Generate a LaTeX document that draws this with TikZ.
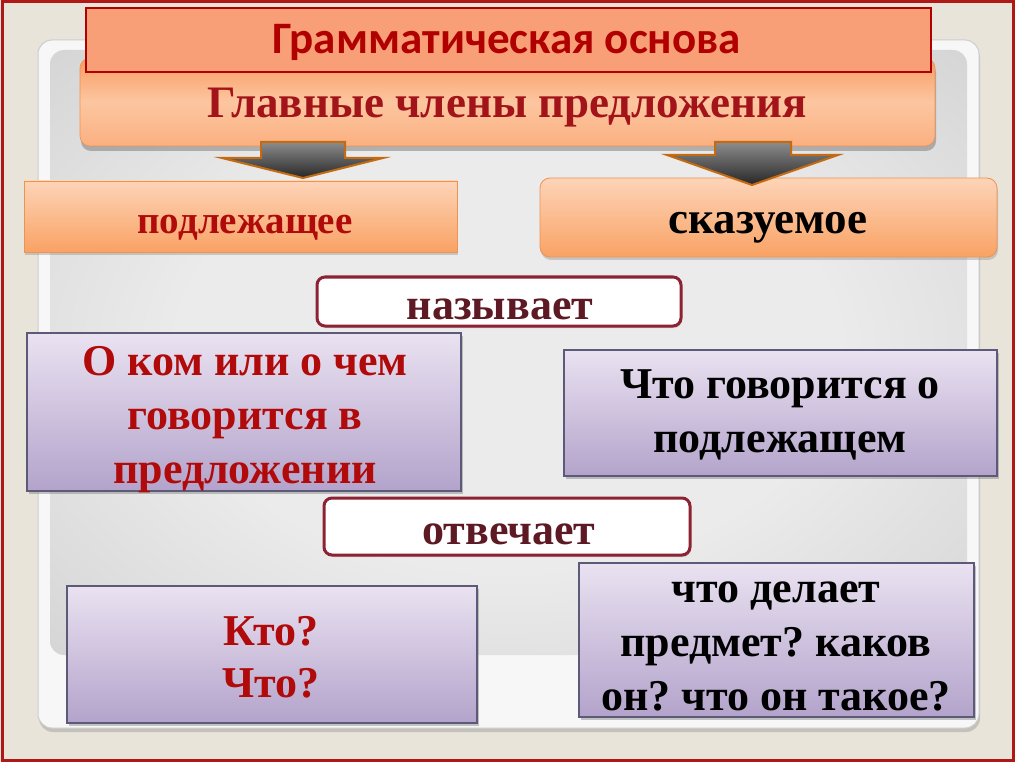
\documentclass[tikz,border=0pt]{standalone}
\usepackage{fontspec}
\setmainfont{Liberation Serif}
\newfontfamily\titlefont{Carlito}
\usetikzlibrary{shadows,calc}
\frenchspacing
\definecolor{bgbeige}{HTML}{E8E4DA}
\definecolor{frame}{HTML}{B01818}
\definecolor{titlefill}{HTML}{F99F77}
\definecolor{titletext}{HTML}{B00000}
\definecolor{redtext}{HTML}{B00A0A}
\definecolor{maintext}{HTML}{A3141A}
\definecolor{maroon}{HTML}{5E1A24}
\definecolor{boxborder}{HTML}{8C2232}
\definecolor{orTop}{HTML}{FDD4B8}
\definecolor{orBot}{HTML}{F9A264}
\definecolor{orEdge}{HTML}{EE9350}
\definecolor{mainTop}{HTML}{F99A62}
\definecolor{mainMid}{HTML}{FCC6A0}
\definecolor{mainBot}{HTML}{FBB080}
\definecolor{puTop}{HTML}{EAE2F1}
\definecolor{puBot}{HTML}{B3A3CB}
\definecolor{puEdge}{HTML}{5C5A78}
\definecolor{arrEdge}{HTML}{C46A12}
\definecolor{pc0}{HTML}{EBEBEB}
\definecolor{pc1}{HTML}{D2D2D2}
\definecolor{pc2}{HTML}{ABABAB}
\pgfdeclareradialshading{panelshade}{\pgfpoint{0bp}{0bp}}{color(0bp)=(pc0); color(18bp)=(pc0); color(38bp)=(pc1); color(50bp)=(pc2); color(80bp)=(pc2)}
\tikzset{
  orbox/.style={draw=orEdge, line width=0.8pt, top color=orTop, bottom color=orBot,
    drop shadow={shadow xshift=1pt, shadow yshift=-3pt, opacity=.35}},
  pubox/.style={draw=puEdge, line width=1.2pt, top color=puTop, bottom color=puBot,
    drop shadow={shadow xshift=2pt, shadow yshift=-3pt, opacity=.45}},
  whbox/.style={draw=boxborder, line width=3pt, fill=white, rounded corners=8pt,
    drop shadow={shadow xshift=1pt, shadow yshift=-2pt, opacity=.3}},
  bigtxt/.style={font=\fontsize{44}{54}\selectfont\bfseries, align=center, anchor=base, inner sep=0pt},
  blockarrow/.style={draw=arrEdge, line width=2pt, line join=miter, top color=black!45, bottom color=black!85},
}
\begin{document}
\begin{tikzpicture}[x=1pt,y=-1pt]
\useasboundingbox (0,0) rectangle (1015,762);
\fill[bgbeige] (0,0) rectangle (1015,762);
\draw[frame, line width=3pt] (2,2) rectangle (1013,760);
% panel
\draw[rounded corners=14pt, fill=black!3, draw=black!20, line width=1pt,
  drop shadow={shadow xshift=1pt, shadow yshift=-4pt, opacity=.35}] (38,40) rectangle (979,728);
\path[shading=panelshade, rounded corners=14pt] (50,50) rectangle (967,655);
% main box
\node[rounded corners=10pt, minimum width=855pt, minimum height=88pt, inner sep=0pt,
  top color=mainTop, bottom color=mainBot, middle color=mainMid, draw=orEdge, line width=0.6pt,
  drop shadow={shadow xshift=1pt, shadow yshift=-5pt, opacity=.55}] (main) at (507.5,102) {};
\node[bigtxt, text=maintext, font=\fontsize{45}{54}\selectfont\bfseries] (mainT) at (507,118) {Главные члены предложения};
% title
\node[draw=titletext, line width=2.5pt, fill=titlefill, minimum width=845pt, minimum height=64pt, inner sep=0pt] (title) at (508.5,40) {};
\node[font=\titlefont\fontsize{45}{48}\selectfont\bfseries, text=titletext, anchor=base, inner sep=0pt] (titleT) at (507,54) {Грамматическая основа};
% subject / predicate
\node[orbox, minimum width=433pt, minimum height=71pt, inner sep=0pt] (pod) at (240.5,216.5) {};
\node[bigtxt, text=redtext, font=\fontsize{39}{48}\selectfont\bfseries] (podT) at (245,234) {подлежащее};
\node[orbox, rounded corners=10pt, minimum width=457pt, minimum height=79pt, inner sep=0pt] (skaz) at (768.5,217.5) {};
\node[bigtxt, text=black, font=\fontsize{45}{54}\selectfont\bfseries] (skazT) at (768,234) {сказуемое};
% arrows
\draw[blockarrow] (261,142) -- (345,142) -- (345,158) -- (383,158) -- (303,178) -- (222,158) -- (261,158) -- cycle;
\draw[blockarrow] (715,142) -- (791,142) -- (791,155) -- (838,155) -- (752,185) -- (667,155) -- (715,155) -- cycle;
% nazyvaet
\node[whbox, minimum width=364pt, minimum height=49pt, inner sep=0pt] (naz) at (499,301.5) {};
\node[bigtxt, text=maroon] (nazT) at (500,319) {называет};
% purple boxes
\node[pubox, minimum width=434pt, minimum height=158pt, inner sep=0pt] (lq) at (244,412) {};
\node[bigtxt, text=redtext] (lqT) at (245,483) {О ком или о чем\\говорится в\\предложении};
\node[pubox, minimum width=433pt, minimum height=126pt, inner sep=0pt] (rq) at (780.5,413) {};
\node[bigtxt, text=black] (rqT) at (780,452) {Что говорится о\\подлежащем};
% otvechaet
\node[whbox, minimum width=366pt, minimum height=57pt, inner sep=0pt] (otv) at (507,526.5) {};
\node[bigtxt, text=maroon] (otvT) at (509,544) {отвечает};
% answers
\node[pubox, minimum width=410pt, minimum height=137pt, inner sep=0pt] (la) at (272,654.5) {};
\node[bigtxt, text=redtext, font=\fontsize{44}{52}\selectfont\bfseries] (laT) at (271,697) {Кто?\\Что?};
\node[pubox, minimum width=395pt, minimum height=154pt, inner sep=0pt] (ra) at (776.5,640) {};
\node[bigtxt, text=black] (raT) at (776,710) {что делает\\предмет? каков\\он? что он такое?};
\end{tikzpicture}
\end{document}
